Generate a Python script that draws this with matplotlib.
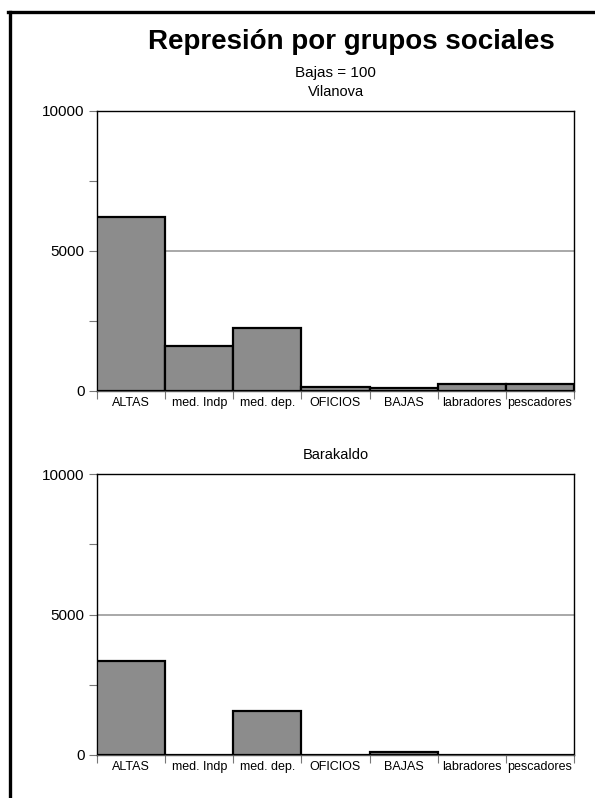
import matplotlib
matplotlib.use("Agg")
import matplotlib.pyplot as plt
from matplotlib.lines import Line2D
import numpy as np

plt.rcParams["font.family"] = ["Liberation Sans", "DejaVu Sans"]

# Data (Bajas = 100)
categories = ["ALTAS", "med. Indp", "med. dep.", "OFICIOS", "BAJAS", "labradores", "pescadores"]
vilanova = [6200, 1600, 2250, 150, 100, 250, 250]
barakaldo = [3330, 0, 1550, 0, 100, 0, 0]
panel_titles = ["Vilanova", "Barakaldo"]

fig = plt.figure(figsize=(5.95, 7.98), dpi=100)

# frame lines (left + top) of the original picture
fig.add_artist(Line2D([9.5 / 595, 9.5 / 595], [0, 1 - 11.5 / 798], color="black", lw=2.4,
                      transform=fig.transFigure))
fig.add_artist(Line2D([8.3 / 595, 1], [1 - 11.5 / 798, 1 - 11.5 / 798], color="black", lw=2.4,
                      transform=fig.transFigure))

fig.text(351 / 595, 1 - 42 / 798, "Represión por grupos sociales", ha="center", va="center",
         fontsize=20, fontweight="bold")
fig.text(335 / 595, 1 - 73 / 798, "Bajas = 100", ha="center", va="center", fontsize=11)

boxes = [[97 / 595, 1 - 391 / 798, 477 / 595, 280 / 798],
         [97 / 595, 1 - 755 / 798, 477 / 595, 281 / 798]]

x = np.arange(len(categories))
for box, vals, name in zip(boxes, [vilanova, barakaldo], panel_titles):
    ax = fig.add_axes(box)
    ax.bar(x, vals, width=1.0, color="#8c8c8c", edgecolor="black", linewidth=1.6, zorder=3)
    ax.set_xlim(-0.5, len(categories) - 0.5)
    ax.set_ylim(0, 10000)
    ax.set_yticks([0, 5000, 10000])
    ax.set_yticks([2500, 7500], minor=True)
    ax.tick_params(axis="y", which="both", direction="out", length=6, width=0.8,
                   color="#777777", labelsize=11, pad=3)
    ax.set_xticks(np.arange(len(categories) + 1) - 0.5)
    ax.set_xticklabels([])
    ax.set_xticks(x, minor=True)
    ax.set_xticklabels(categories, minor=True, fontsize=9)
    ax.tick_params(axis="x", which="major", direction="out", length=6, width=0.8, color="#777777")
    ax.tick_params(axis="x", which="minor", length=0, pad=4)
    ax.axhline(5000, color="#999999", lw=1.2, zorder=1)
    for s in ax.spines.values():
        s.set_linewidth(1.0)
        s.set_color("black")
    ax.spines["bottom"].set_color("#555555")
    ax.set_title(name, fontsize=10.5, pad=11)

fig.savefig("out.png", dpi=100)
